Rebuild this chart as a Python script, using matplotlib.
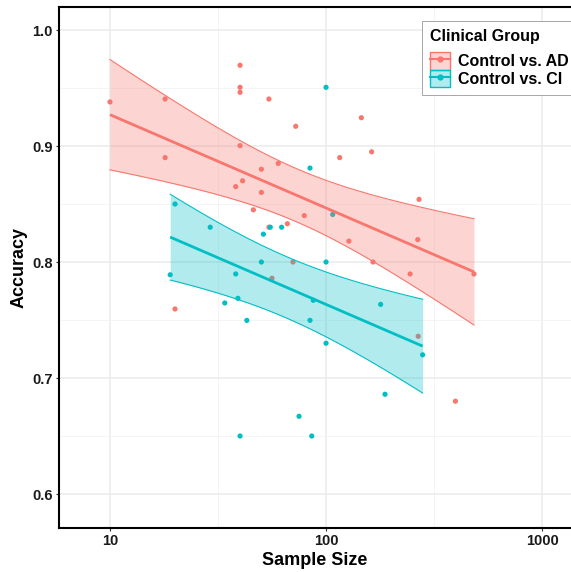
import numpy as np
import matplotlib
matplotlib.use("Agg")
import matplotlib.pyplot as plt
from matplotlib.patches import Rectangle
from matplotlib.lines import Line2D
from matplotlib.ticker import FixedLocator, NullFormatter

plt.rcParams['font.family'] = ['Liberation Sans', 'DejaVu Sans']

# ---- data ----
groups = ["Control vs. AD", "Control vs. CI"]
colors = ["#F8766D", "#00BFC4"]

ad_n = [10, 18, 18, 40, 40, 40, 54.4, 72.4, 40, 60.1, 50.2, 41.1, 38.2, 50.2, 46.1, 79.3,
        66.2, 54.4, 70.3, 56.2, 20, 145.7, 115.7, 162.6, 269.5, 127.6, 265.8, 165, 245, 484,
        397, 267]
ad_acc = [0.938, 0.9405, 0.890, 0.9696, 0.9506, 0.9463, 0.9405, 0.917, 0.9003, 0.885, 0.880,
          0.870, 0.865, 0.860, 0.845, 0.840, 0.833, 0.830, 0.800, 0.786, 0.7595, 0.9244, 0.890,
          0.895, 0.854, 0.818, 0.8193, 0.800, 0.7897, 0.7897, 0.680, 0.736]

ci_n = [84.3, 20, 29.1, 55.2, 62.3, 51.3, 50.2, 19, 38.2, 34, 39.1, 43, 87.3, 84.3, 75, 40,
        85.9, 100, 107.4, 100, 179, 100, 280, 187.5]
ci_acc = [0.881, 0.850, 0.830, 0.830, 0.830, 0.824, 0.800, 0.789, 0.7897, 0.7647, 0.7687,
          0.7497, 0.767, 0.7497, 0.667, 0.650, 0.650, 0.9506, 0.841, 0.800, 0.7635, 0.730,
          0.720, 0.686]

x_ticks = [10, 100, 1000]
x_ticklabels = ["10", "100", "1000"]
y_ticks = [0.6, 0.7, 0.8, 0.9, 1.0]
y_ticklabels = ["0.6", "0.7", "0.8", "0.9", "1.0"]


def t975(df):
    z = 1.959964
    return (z + (z**3 + z) / (4 * df) + (5 * z**5 + 16 * z**3 + 3 * z) / (96 * df**2)
            + (3 * z**7 + 19 * z**5 + 17 * z**3 - 15 * z) / (384 * df**3))


# additive model: Accuracy ~ log10(N) + group
lx_all = np.log10(np.concatenate([ad_n, ci_n]).astype(float))
y_all = np.concatenate([ad_acc, ci_acc]).astype(float)
g_all = np.concatenate([np.zeros(len(ad_n)), np.ones(len(ci_n))])
X = np.column_stack([np.ones_like(lx_all), lx_all, g_all])
beta, *_ = np.linalg.lstsq(X, y_all, rcond=None)
resid = y_all - X @ beta
dfree = len(y_all) - X.shape[1]
s2 = np.sum(resid**2) / dfree
XtX_inv = np.linalg.inv(X.T @ X)
tq = t975(dfree)


def band(xs, gi, npts=80):
    lx = np.log10(np.asarray(xs, float))
    g = np.linspace(lx.min(), lx.max(), npts)
    X0 = np.column_stack([np.ones_like(g), g, np.full_like(g, gi)])
    fit = X0 @ beta
    se = np.sqrt(s2 * np.einsum('ij,jk,ik->i', X0, XtX_inv, X0))
    return 10**g, fit, fit - tq * se, fit + tq * se


W, H = 571, 572
fig = plt.figure(figsize=(W / 100, H / 100), dpi=100)
L, R, T, B = 58.7, 571, 6.7, 528
ax = fig.add_axes([L / W, (H - B) / H, (R - L) / W, (B - T) / H])

ax.set_xscale('log')
ax.set_xlim(5.79, 1361)
ax.set_ylim(0.5707, 1.0201)

# points (drawn below ribbons, as in the reference)
for xs, ys, c in [(ad_n, ad_acc, colors[0]), (ci_n, ci_acc, colors[1])]:
    ax.scatter(xs, ys, s=14, color=c, edgecolors='none', zorder=2)

# fitted lines with confidence bands
for gi, (xs, c) in enumerate([(ad_n, colors[0]), (ci_n, colors[1])]):
    gx, fit, lo, hi = band(xs, gi)
    ax.fill_between(gx, lo, hi, color=c, alpha=0.3, linewidth=0, zorder=3)
    ax.plot(gx, lo, color=c, lw=0.8, zorder=3.5)
    ax.plot(gx, hi, color=c, lw=0.8, zorder=3.5)
    ax.plot(gx, fit, color=c, lw=2.0, zorder=4, solid_capstyle='butt')

# ticks / grid
ax.xaxis.set_major_locator(FixedLocator(x_ticks))
ax.set_xticklabels(x_ticklabels)
ax.xaxis.set_minor_locator(FixedLocator([10**0.5, 10**1.5, 10**2.5, 10**3.5]))
ax.xaxis.set_minor_formatter(NullFormatter())
ax.yaxis.set_major_locator(FixedLocator(y_ticks))
ax.set_yticklabels(y_ticklabels)
ax.yaxis.set_minor_locator(FixedLocator([0.65, 0.75, 0.85, 0.95]))

ax.grid(True, which='major', color='#EBEBEB', lw=1.1, zorder=0)
ax.grid(True, which='minor', color='#F2F2F2', lw=0.6, zorder=0)
ax.set_axisbelow(True)

ax.tick_params(which='major', length=2.5, width=0.8, color='#333333', pad=2,
               labelsize=10.5, labelcolor='#1A1A1A')
ax.tick_params(which='minor', length=0)
for lab in ax.get_xticklabels() + ax.get_yticklabels():
    lab.set_fontweight('bold')

for sp in ['left', 'bottom', 'top']:
    ax.spines[sp].set_color('black')
    ax.spines[sp].set_linewidth(1.5)
ax.spines['right'].set_visible(False)

ax.set_xlabel("Sample Size", fontsize=13, fontweight='bold', labelpad=3)
ax.set_ylabel("Accuracy", fontsize=13, fontweight='bold', labelpad=3)

# legend
handles = []
for c in colors:
    p = Rectangle((0, 0), 1, 1, facecolor=c, alpha=0.3, edgecolor='none')
    pe = Rectangle((0, 0), 1, 1, facecolor='none', edgecolor=c, lw=1.0)
    ln = Line2D([], [], color=c, lw=1.5, marker='o', markersize=3.5)
    handles.append((p, pe, ln))
leg = ax.legend(handles, groups, title="Clinical Group", loc='upper left',
                bbox_to_anchor=((421.7 - L) / (R - L), 1 - (21 - T) / (B - T)),
                prop={'weight': 'bold', 'size': 11.5},
                title_fontproperties={'weight': 'bold', 'size': 11.5},
                frameon=True, fancybox=False, edgecolor='#999999', framealpha=1,
                handlelength=1.25, handleheight=1.35, handletextpad=0.5,
                labelspacing=0.0, borderpad=0.5, borderaxespad=0)
leg.get_frame().set_linewidth(0.6)
leg._legend_box.align = "left"
leg._legend_box.sep = 5.5
leg.set_zorder(10)

fig.savefig("out.png", dpi=100)
